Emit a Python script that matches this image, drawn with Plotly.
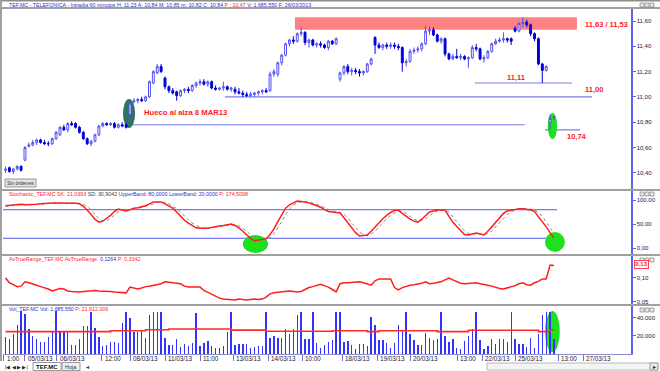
import plotly.graph_objects as go

# ---------------- data ----------------
bar_index = list(range(142))

opens = [10.42,10.44,10.41,10.43,10.45,10.50,10.61,10.62,10.64,10.66,10.64,10.63,10.63,10.67,10.70,10.76,10.74,10.79,10.79,10.76,
         10.72,10.67,10.63,10.65,10.70,10.77,10.79,10.78,10.79,10.76,10.78,10.78,10.86,10.96,10.97,10.98,10.97,11.00,11.11,11.19,
         11.24,11.15,11.08,11.05,11.04,11.01,11.05,11.06,11.05,11.09,11.11,11.12,11.10,11.12,11.07,11.06,11.07,11.08,11.06,11.06,
         11.04,11.03,11.02,11.01,11.02,11.03,11.04,11.05,11.05,11.18,11.18,11.27,11.33,11.42,11.45,11.44,11.50,11.51,11.43,11.45,
         11.41,11.42,11.41,11.39,11.44,11.42,11.14,11.19,11.24,11.20,11.21,11.20,11.19,11.20,11.26,11.47,11.41,11.39,11.41,11.40,
         11.41,11.40,11.39,11.27,11.28,11.36,11.37,11.38,11.42,11.52,11.53,11.49,11.44,11.46,11.34,11.30,11.32,11.31,11.32,11.30,
         11.31,11.39,11.38,11.30,11.31,11.36,11.42,11.44,11.45,11.46,11.46,11.54,11.52,11.58,11.59,11.57,11.50,11.46,11.26,11.21,
         10.80,10.84]
highs = [10.45,10.45,10.44,10.46,10.46,10.61,10.64,10.66,10.67,10.67,10.66,10.65,10.68,10.73,10.77,10.78,10.80,10.81,10.80,10.77,
         10.73,10.68,10.66,10.71,10.78,10.80,10.80,10.80,10.80,10.79,10.80,10.79,10.97,10.99,10.99,11.00,11.01,11.13,11.21,11.26,
         11.26,11.16,11.09,11.07,11.05,11.06,11.07,11.08,11.10,11.12,11.14,11.14,11.13,11.13,11.09,11.08,11.12,11.09,11.08,11.08,
         11.07,11.05,11.04,11.04,11.04,11.05,11.06,11.07,11.20,11.22,11.28,11.34,11.43,11.46,11.48,11.51,11.55,11.52,11.46,11.46,
         11.43,11.44,11.42,11.45,11.45,11.47,11.20,11.25,11.26,11.23,11.23,11.22,11.21,11.27,11.31,11.48,11.43,11.42,11.43,11.43,
         11.43,11.42,11.40,11.30,11.38,11.39,11.40,11.43,11.56,11.56,11.55,11.50,11.47,11.47,11.35,11.34,11.38,11.34,11.33,11.32,
         11.41,11.42,11.39,11.33,11.37,11.43,11.46,11.47,11.51,11.47,11.47,11.56,11.59,11.63,11.61,11.58,11.51,11.47,11.27,11.25,
         10.86,10.85]
lows = [10.40,10.40,10.39,10.42,10.41,10.49,10.60,10.61,10.62,10.63,10.62,10.61,10.62,10.66,10.69,10.73,10.72,10.77,10.75,10.71,
        10.66,10.62,10.61,10.64,10.69,10.76,10.77,10.77,10.75,10.75,10.76,10.75,10.84,10.95,10.95,10.96,10.96,10.99,11.10,11.18,
        11.19,11.06,11.03,11.02,10.97,11.00,11.03,11.03,11.04,11.07,11.09,11.09,11.08,11.06,11.05,11.05,11.05,11.05,11.04,11.02,
        11.02,11.00,11.00,11.00,11.00,11.01,11.02,11.03,11.04,11.16,11.16,11.25,11.32,11.40,11.42,11.43,11.48,11.41,11.39,11.40,
        11.39,11.39,11.38,11.37,11.41,11.41,11.12,11.17,11.18,11.17,11.18,11.16,11.17,11.19,11.25,11.34,11.38,11.37,11.38,11.38,
        11.38,11.37,11.20,11.24,11.27,11.34,11.35,11.36,11.41,11.49,11.48,11.43,11.42,11.32,11.29,11.29,11.30,11.29,11.29,11.23,
        11.30,11.36,11.29,11.27,11.30,11.35,11.41,11.43,11.43,11.43,11.41,11.51,11.51,11.55,11.55,11.48,11.44,11.25,11.11,11.20,
        10.74,10.82]
closes = [10.43,10.41,10.43,10.45,10.42,10.60,10.62,10.64,10.66,10.64,10.63,10.63,10.67,10.72,10.76,10.74,10.79,10.78,10.76,10.72,
          10.67,10.63,10.65,10.70,10.77,10.79,10.78,10.79,10.76,10.78,10.77,10.76,10.95,10.97,10.98,10.97,11.00,11.12,11.20,11.24,
          11.20,11.08,11.05,11.03,11.01,11.05,11.06,11.05,11.09,11.11,11.12,11.10,11.12,11.07,11.06,11.07,11.08,11.06,11.07,11.04,
          11.03,11.02,11.01,11.02,11.03,11.04,11.05,11.04,11.18,11.20,11.27,11.33,11.42,11.45,11.44,11.50,11.51,11.43,11.45,11.41,
          11.42,11.41,11.39,11.44,11.42,11.46,11.19,11.24,11.20,11.21,11.20,11.19,11.20,11.26,11.30,11.41,11.39,11.41,11.40,11.41,
          11.40,11.39,11.27,11.28,11.36,11.37,11.38,11.42,11.52,11.53,11.49,11.44,11.46,11.34,11.30,11.32,11.31,11.32,11.30,11.31,
          11.39,11.38,11.30,11.31,11.36,11.42,11.44,11.45,11.46,11.45,11.44,11.52,11.58,11.59,11.57,11.50,11.46,11.26,11.21,11.24,
          10.83,10.84]

stoch_k = [88,89,90,91,91,90,90,90,91,92,93,94,94,94,94,94,94,93,93,92,
           87,79,70,60,54,56,62,68,76,81,79,77,80,83,84,86,88,92,96,96,
           96,92,87,83,75,66,58,52,47,42,41,41,41,43,45,46,47,48,50,47,
           42,35,27,20,15,16,17,19,28,40,55,70,83,90,94,98,97,96,94,91,
           88,85,80,76,75,74,73,63,52,42,32,25,26,27,35,44,54,61,68,74,
           78,79,72,65,60,56,54,60,68,75,77,79,79,79,66,54,45,36,28,27,
           29,31,29,27,35,44,52,62,72,77,79,81,82,82,81,79,76,66,55,44,
           32,21]
stoch_d = [87,88,89,90,91,91,90,90,90,91,92,93,94,94,94,94,94,94,93,93,
           91,86,79,70,61,57,57,62,69,75,79,79,79,80,82,84,86,89,92,95,
           96,95,92,87,82,75,66,59,52,47,43,41,41,42,43,45,46,47,48,48,
           46,41,35,27,21,17,16,17,21,29,41,55,69,81,89,94,96,97,96,94,
           91,88,84,80,77,75,74,70,63,52,42,33,28,26,29,35,44,53,61,68,
           73,77,76,72,66,60,57,57,61,68,73,77,78,79,75,66,55,45,36,30,
           29,29,30,29,30,35,44,53,62,70,76,79,81,82,82,81,79,74,66,55,
           43,31]

atr = [.100,.090,.086,.082,.083,.092,.090,.088,.085,.082,.080,.077,.073,.075,.078,.077,.073,.072,.071,.071,
       .072,.073,.073,.074,.073,.073,.073,.072,.071,.070,.069,.069,.081,.079,.077,.079,.082,.083,.085,.087,
       .088,.092,.091,.090,.090,.088,.083,.081,.081,.081,.081,.074,.070,.066,.062,.058,.056,.055,.055,.054,
       .056,.055,.054,.055,.056,.055,.056,.060,.067,.069,.070,.071,.072,.073,.072,.071,.072,.076,.080,.082,
       .085,.087,.084,.081,.076,.071,.088,.090,.090,.091,.092,.092,.090,.087,.085,.094,.098,.098,.098,.098,
       .080,.075,.080,.083,.085,.086,.087,.089,.092,.088,.089,.090,.092,.096,.100,.096,.092,.089,.088,.089,
       .090,.090,.088,.087,.085,.083,.080,.078,.077,.079,.081,.084,.088,.090,.086,.085,.090,.093,.098,.098,
       .127,.126]

volume = [19000,17000,22000,32000,48000,44000,28000,20000,17000,13000,13000,19000,24000,48000,26000,24000,24000,10000,10000,17000,
          31000,31000,47000,29000,19000,9000,10000,13000,13000,12000,34000,47000,40000,24000,24000,26000,18000,43000,47000,47000,
          47000,18000,10000,10000,17000,8000,11000,9000,12000,46000,9000,12000,14000,9000,7000,7000,9000,24000,47000,10000,
          11000,11000,11000,7000,8000,9000,9000,47000,18000,20000,18000,18000,28000,22000,28000,43000,47000,17000,17000,47000,
          12000,7000,10000,13000,15000,47000,47000,13000,14000,10000,6000,11000,11000,9000,41000,32000,16000,15000,12000,7000,
          12000,32000,25000,47000,22000,15000,10000,10000,23000,18000,15000,17000,47000,20000,13000,17000,7000,6000,14000,20000,
          28000,47000,15000,6000,9000,17000,11000,17000,17000,13000,47000,17000,11000,11000,8000,18000,7000,22000,43000,47000,
          47000,17000]
volume_avg = [
    24800,24800,24800,24800,24800,24800,24800,24800,24800,24800,24800,24800,24800,24800,24800,24800,24800,24800,24800,24800,
    24800,24800,24800,24800,24800,24800,24800,25900,25900,25900,25900,25900,25900,25900,25900,25900,27000,27000,27000,27000,
    27000,27000,27800,27800,27800,27800,27800,27800,27800,27800,27800,27800,27800,27800,27800,27800,27800,27800,26500,26500,
    26500,26500,26500,26500,26500,26500,26500,25200,25200,25200,25200,25200,25200,25200,25200,25200,25200,25200,25200,25200,
    25200,25200,25200,25200,25900,25900,25900,25900,25900,25900,25900,25900,25900,24800,24800,24800,25900,25900,25900,25900,
    25900,25900,25900,25900,25900,25900,25900,25900,25900,25900,25900,24800,24800,24800,24800,24800,24800,24800,24800,26300,
    26300,26300,26300,26300,26300,26300,26300,26300,26300,26300,26300,26300,26300,26300,26300,26300,26300,24800,24800,24800,
    27000,27000]

tick_pos = [-0.5, 5, 13.2, 24.8, 32, 41, 50, 58.5, 67.5, 76.3, 86.6, 95.6, 104, 116.1, 122.5, 131, 142.1, 148.5]
tick_labels = ["1:00", "05/03/13", "06/03/13", "12:00", "08/03/13", "11/03/13", "11:00", "13/03/13", "14/03/13",
               "10:00", "18/03/13", "19/03/13", "20/03/13", "13:00", "22/03/13", "25/03/13", "13:00", "27/03/13"]

price_ticks = [10.4, 10.6, 10.8, 11.0, 11.2, 11.4, 11.6]
stoch_ticks = [0, 50, 100]
atr_ticks = [0.05, 0.10]
vol_ticks = [20000, 40000]

# analyst drawings (levels in price units, extents in bar units)
line_levels = [11.00, 10.78, 11.11, 10.74]
line_start = [56.4, 32.0, 120.7, 138.7]
line_end = [150.8, 133.5, 145.6, 147.7]
band_low, band_high, band_start, band_end = 11.53, 11.63, 74.4, 146.9
stoch_bands = [80, 20]

# ---------------- figure ----------------
W, H = 660, 371
FONT = "Liberation Sans, Arial, sans-serif"
XDOM = [3 / W, 631 / W]
XR = [-0.65, 160.8]
AXBLUE = "#6262EE"
LBL = "#20203A"


def dom(top, bot):
    return [1 - bot / H, 1 - top / H]


fig = go.Figure()
fig.add_trace(go.Candlestick(
    x=bar_index, open=opens, high=highs, low=lows, close=closes,
    increasing=dict(line=dict(color="#5050F0", width=1), fillcolor="#FFFFFF"),
    decreasing=dict(line=dict(color="#0000D8", width=1), fillcolor="#0000D8"),
    whiskerwidth=0, xaxis="x", yaxis="y", showlegend=False, hoverinfo="skip"))
fig.add_trace(go.Scatter(x=bar_index, y=stoch_d, mode="lines",
                         line=dict(color="#8A8A8A", width=1, dash="dot"),
                         xaxis="x2", yaxis="y2", showlegend=False, hoverinfo="skip"))
fig.add_trace(go.Scatter(x=bar_index, y=stoch_k, mode="lines",
                         line=dict(color="#FF1E1E", width=1.5),
                         xaxis="x2", yaxis="y2", showlegend=False, hoverinfo="skip"))
fig.add_trace(go.Scatter(x=bar_index, y=atr, mode="lines",
                         line=dict(color="#FF1E1E", width=1.5),
                         xaxis="x3", yaxis="y3", showlegend=False, hoverinfo="skip"))
fig.add_trace(go.Bar(x=bar_index, y=volume, width=0.36,
                     marker=dict(color="#3333FF", line=dict(width=0)),
                     xaxis="x4", yaxis="y4", showlegend=False, hoverinfo="skip"))
fig.add_trace(go.Scatter(x=bar_index, y=volume_avg, mode="lines",
                         line=dict(color="#FF2A2A", width=1.6, shape="hv"),
                         xaxis="x4", yaxis="y4", showlegend=False, hoverinfo="skip"))

xbase = dict(domain=XDOM, range=XR, showgrid=False, zeroline=False, showticklabels=False,
             ticks="", showline=False, fixedrange=True)
ybase = dict(side="right", showgrid=False, zeroline=False, showline=True, linecolor=AXBLUE,
             linewidth=1.5, ticks="outside", ticklen=3, tickcolor=AXBLUE,
             tickfont=dict(family=FONT, size=6, color=LBL), fixedrange=True)

layout = dict(
    width=W, height=H, autosize=False, margin=dict(l=0, r=0, t=0, b=0, pad=0),
    paper_bgcolor="white", plot_bgcolor="white", separators=",.",
    font=dict(family=FONT, size=6, color=LBL), showlegend=False, bargap=0,
    xaxis=dict(xbase, anchor="y", rangeslider=dict(visible=False)),
    xaxis2=dict(xbase, anchor="y2"),
    xaxis3=dict(xbase, anchor="y3"),
    xaxis4=dict(xbase, anchor="y4", showline=True, linecolor="#8C8CD8", linewidth=1,
                ticks="outside", ticklen=6, tickcolor="#7070C0", tickvals=tick_pos,
                showticklabels=False),
    yaxis=dict(ybase, anchor="x", domain=dom(9, 189), range=[10.272, 11.695],
               tickvals=price_ticks, tickformat=".2f"),
    yaxis2=dict(ybase, anchor="x2", domain=dom(191, 254), range=[-12.5, 118.75],
                tickvals=stoch_ticks, tickformat=".2f"),
    yaxis3=dict(ybase, anchor="x3", domain=dom(256, 304), range=[0.0458, 0.1458],
                tickvals=atr_ticks, tickformat=".2f"),
    yaxis4=dict(ybase, anchor="x4", domain=dom(306, 354), range=[0, 53300],
                tickvals=vol_ticks, tickformat=",d"),
)

shapes = []
shapes.append(dict(type="rect", xref="x", yref="y", x0=band_start, x1=band_end, y0=band_low, y1=band_high,
                   fillcolor="#FF8282", line=dict(width=0), layer="below"))
for lv, a, b in zip(line_levels, line_start, line_end):
    shapes.append(dict(type="line", xref="x", yref="y", x0=a, x1=b, y0=lv, y1=lv,
                       line=dict(color="#7A7AF0", width=1.2), layer="below"))
shapes.append(dict(type="circle", xref="x", yref="y", x0=30.2, x1=33.3, y0=10.754, y1=10.983,
                   fillcolor="#2F7462", line=dict(width=0), layer="below"))
shapes.append(dict(type="circle", xref="x", yref="y", x0=139.4, x1=141.8, y0=10.667, y1=10.873,
                   fillcolor="#1EE01E", line=dict(width=0), layer="below"))
for lv in stoch_bands:
    shapes.append(dict(type="line", xref="x2", yref="y2", x0=XR[0], x1=141.8, y0=lv, y1=lv,
                       line=dict(color="#7A7AF0", width=1.2), layer="below"))
shapes.append(dict(type="circle", xref="x2", yref="y2", x0=61.0, x1=67.5, y0=-10.4, y1=27,
                   fillcolor="#1EE01E", line=dict(width=0), layer="below"))
shapes.append(dict(type="circle", xref="x2", yref="y2", x0=138.7, x1=143.8, y0=-8.3, y1=33.3,
                   fillcolor="#1EE01E", line=dict(width=0), layer="below"))
shapes.append(dict(type="circle", xref="x4", yref="y4", x0=138.7, x1=142.5, y0=2200, y1=47800,
                   fillcolor="#1EE01E", line=dict(width=0), layer="below"))


def hline_px(y, x0=0, x1=W, color="#A0A0A0", width=2):
    shapes.append(dict(type="line", xref="paper", yref="paper", x0=x0 / W, x1=x1 / W,
                       y0=1 - y / H, y1=1 - y / H, line=dict(color=color, width=width)))


hline_px(0.5, color="#8C8C8C", width=2)
for yy in [8, 190, 255, 305]:
    hline_px(yy)
shapes.append(dict(type="line", xref="paper", yref="paper", x0=1 / W, x1=1 / W, y0=1 - 361 / H, y1=1,
                   line=dict(color="#A0A0A0", width=2)))
for ty in [3, 192, 258, 308]:
    for k in range(3):
        x0 = 640 + 5 * k
        shapes.append(dict(type="rect", xref="paper", yref="paper", x0=x0 / W, x1=(x0 + 4) / W,
                           y0=1 - (ty + 4) / H, y1=1 - ty / H, fillcolor="#E8E8E8",
                           line=dict(color="#707070", width=0.6)))
shapes.append(dict(type="rect", xref="paper", yref="paper", x0=5 / W, x1=36 / W, y0=1 - 187 / H, y1=1 - 179 / H,
                   fillcolor="#E4E4E4", line=dict(color="#808080", width=0.8)))
shapes.append(dict(type="rect", xref="paper", yref="paper", x0=487 / W, x1=658 / W, y0=1 - 370 / H, y1=1 - 363 / H,
                   fillcolor="#F4F4F4", line=dict(color="#A8A8A8", width=0.8)))
shapes.append(dict(type="rect", xref="paper", yref="paper", x0=650 / W, x1=658 / W, y0=1 - 370 / H, y1=1 - 363 / H,
                   fillcolor="#E8E8E8", line=dict(color="#909090", width=0.8)))
shapes.append(dict(type="rect", xref="paper", yref="paper", x0=33 / W, x1=61 / W, y0=1 - 370.5 / H, y1=1 - 362.5 / H,
                   fillcolor="#FFFFFF", line=dict(color="#808080", width=0.8)))
shapes.append(dict(type="rect", xref="paper", yref="paper", x0=62 / W, x1=80 / W, y0=1 - 370.5 / H, y1=1 - 362.5 / H,
                   fillcolor="#EFEFEF", line=dict(color="#808080", width=0.8)))
layout["shapes"] = shapes

RED = "#FF1A1A"
BLUE = "#3030D0"


def paper_ann(x, y, text, size=5.5, color=LBL, anchor="left", **kw):
    return dict(xref="paper", yref="paper", x=x / W, y=1 - y / H, text=text, showarrow=False,
                xanchor=anchor, yanchor="middle", font=dict(family=FONT, size=size, color=color), **kw)


anns = []
anns.append(paper_ann(7, 4.5,
    f"<span style='color:{BLUE}'>TEF.MC - TELEFONICA - Intradia 60 minutos H: 11:23 A: 10,84 M: 10,85 m: 10,82 C: 10,84 </span>"
    f"<span style='color:{RED}'>P : 10,47</span><span style='color:{BLUE}'> V: 1.685.550 F: 26/03/2013</span>", size=5.3))
anns.append(paper_ann(7, 193.5,
    f"<span style='color:{RED}'>Stochastic_TEF.MC SK: 21,0393</span> <span style='color:#404040'>SD: 30,9042</span> "
    f"<span style='color:{BLUE}'>UpperBand: 80,0000 LowerBand: 20,0000</span> <span style='color:{RED}'>P: 174,5098</span>",
    size=5.3))
anns.append(paper_ann(7, 258.5,
    f"<span style='color:{RED}'>AvTrueRange_TEF.MC AvTrueRange:</span> <span style='color:{BLUE}'>0,1264</span> "
    f"<span style='color:{RED}'>P: 0,3342</span>", size=5.3))
anns.append(paper_ann(7, 308.5,
    f"<span style='color:{BLUE}'>Vol_TEF.MC Vol: 1.685.550</span> <span style='color:{RED}'>P: 21.912.009</span>", size=5.3))

# x-axis labels, left-aligned right after each tick
for tp, tl in zip(tick_pos, tick_labels):
    anns.append(dict(xref="x4", yref="paper", x=tp, y=1 - 358.5 / H, text=tl, showarrow=False,
                     xanchor="left", yanchor="middle", xshift=1,
                     font=dict(family=FONT, size=6.3, color=LBL)))


def data_ann(x, y, text, anchor="left", size=7.5):
    return dict(xref="x", yref="y", x=x, y=y, text=f"<b>{text}</b>", showarrow=False, xanchor=anchor,
                yanchor="middle", font=dict(family=FONT, size=size, color=RED))


anns.append(data_ann(35.1, 10.88, "Hueco al alza 8 MAR13", size=7.7))
anns.append(data_ann(148.4, 11.576, "11,63 / 11,53"))
anns.append(data_ann(148.4, 11.062, "11,00"))
anns.append(data_ann(128.4, 11.157, "11,11"))
anns.append(data_ann(143.8, 10.691, "10,74"))

anns.append(paper_ann(634, 264, "<b>0,13</b>", size=6, color=RED, bordercolor=RED, borderwidth=0.8, borderpad=0.5,
                      bgcolor="white"))
anns.append(paper_ann(20.5, 183, "Sin órdenes", size=5, color="#303030", anchor="center"))
anns.append(paper_ann(3, 366.5, "|◀ ◀ ▶ ▶|", size=5, color="#202020"))
anns.append(paper_ann(47, 366.5, "<b>TEF.MC</b>", size=6, color="#101010", anchor="center"))
anns.append(paper_ann(71, 366.5, "Hoja", size=5.5, color="#303030", anchor="center"))
anns.append(paper_ann(84, 366.5, "◂", size=6, color="#303030"))
anns.append(paper_ann(654, 366.5, "▸", size=6, color="#202020", anchor="center"))
layout["annotations"] = anns

fig.update_layout(layout)
fig.write_html("out.html", config={"displayModeBar": False, "staticPlot": True},
               post_script="document.body.style.margin='0';")
